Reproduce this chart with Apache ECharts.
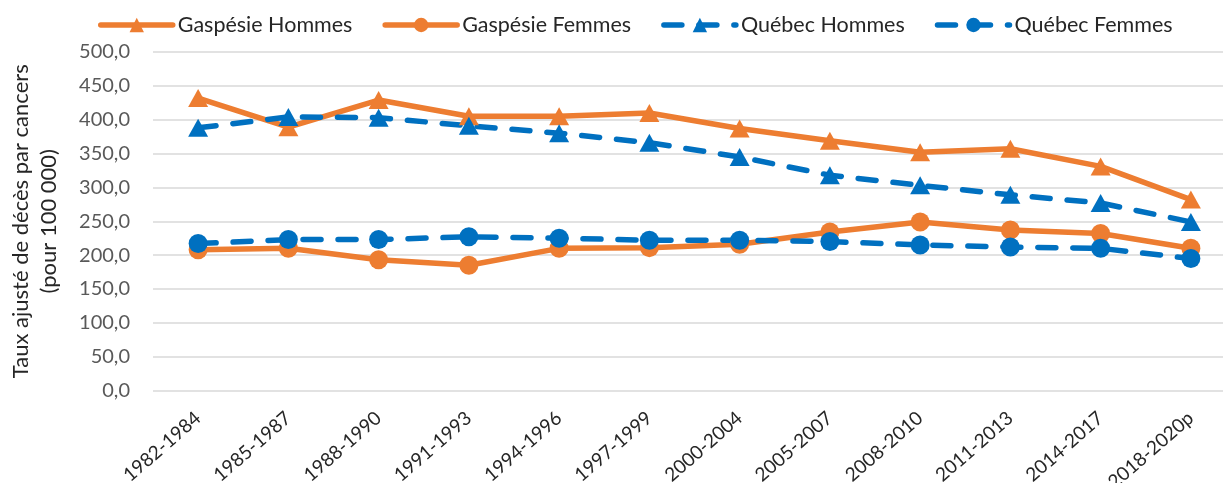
<!DOCTYPE html>
<html>
<head>
<meta charset="utf-8">
<script src="https://cdn.jsdelivr.net/npm/echarts@6/dist/echarts.min.js"></script>
<style>
  html, body { margin: 0; padding: 0; background: #fff; }
  #chart { width: 1223px; height: 483px; }
</style>
</head>
<body>
<div id="chart"></div>
<script>
var periods = ['1982-1984', '1985-1987', '1988-1990', '1991-1993', '1994-1996', '1997-1999',
               '2000-2004', '2005-2007', '2008-2010', '2011-2013', '2014-2017', '2018-2020p'];

var gaspesieHommes = [432, 389, 429, 405, 405, 410, 387, 369, 352, 357, 331, 282];
var gaspesieFemmes = [208, 210, 193, 185, 210, 211, 216, 234, 249, 237, 232, 210];
var quebecHommes   = [388, 404, 403, 391, 380, 366, 345, 318, 303, 289, 277, 249];
var quebecFemmes   = [217, 223, 223, 227, 225, 222, 222, 220, 215, 212, 210, 195];

var ORANGE = '#ED7D31',
    BLUE = '#0070C0',
    FONT = 'Lato';

function lineSeries(name, data, color, dashed, symbol) {
    return {
        name: name,
        type: 'line',
        data: data,
        symbol: symbol,
        symbolSize: symbol === 'triangle' ? [20, 18] : 19,
        itemStyle: { color: color },
        lineStyle: {
            color: color,
            width: 5.5,
            type: dashed ? [18, 17] : 'solid',
            cap: 'round'
        },
        animation: false
    };
}

var chart = echarts.init(document.getElementById('chart'));

chart.setOption({
    backgroundColor: '#fff',
    textStyle: { fontFamily: FONT },
    legend: {
        top: 9,
        left: 93,
        itemWidth: 72,
        itemHeight: 18,
        itemGap: 30,
        lineStyle: { width: 5.5, cap: 'round' },
        textStyle: { fontFamily: FONT, fontSize: 21.5, color: '#262626' }
    },
    grid: { left: 153, right: -13, top: 52, bottom: 92.5, containLabel: false, outerBoundsMode: 'none' },
    xAxis: {
        type: 'category',
        data: periods,
        boundaryGap: true,
        axisLine: { show: false },
        axisTick: { show: false },
        axisLabel: {
            rotate: 41,
            margin: 25,
            interval: 0,
            fontFamily: FONT,
            fontSize: 19,
            color: '#262626'
        }
    },
    yAxis: {
        type: 'value',
        min: 0,
        max: 500,
        interval: 50,
        name: '{a|Taux ajusté de décès par cancers}\n{a|(pour 100 000)}',
        nameLocation: 'middle',
        nameRotate: 90,
        nameGap: 90,
        nameTextStyle: {
            rich: { a: { fontFamily: FONT, fontSize: 22, color: '#262626', lineHeight: 28, align: 'center' } }
        },
        axisLine: { show: false },
        axisTick: { show: false },
        splitLine: { lineStyle: { color: '#D9D9D9', width: 1.5 } },
        axisLabel: {
            margin: 23,
            fontFamily: FONT,
            fontSize: 20,
            color: '#595959',
            formatter: function(v) { return v.toFixed(1).replace('.', ','); }
        }
    },
    series: [
        lineSeries('Gaspésie Hommes', gaspesieHommes, ORANGE, false, 'triangle'),
        lineSeries('Gaspésie Femmes', gaspesieFemmes, ORANGE, false, 'circle'),
        lineSeries('Québec Hommes', quebecHommes, BLUE, true, 'triangle'),
        lineSeries('Québec Femmes', quebecFemmes, BLUE, true, 'circle')
    ]
});
</script>
</body>
</html>
